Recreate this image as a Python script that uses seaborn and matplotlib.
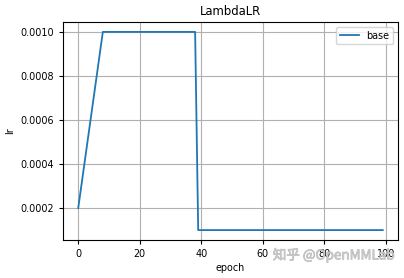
import matplotlib
matplotlib.use("Agg")
import matplotlib.pyplot as plt
import matplotlib.patheffects as pe
import seaborn as sns
import pandas as pd

epochs = [0, 8, 38, 39, 99]
lr_values = [0.0002, 0.0010, 0.0010, 0.0001, 0.0001]
series_name = "base"
yticks = [0.0002, 0.0004, 0.0006, 0.0008, 0.0010]
xticks = [0, 20, 40, 60, 80, 100]

df = pd.DataFrame({"epoch": epochs, "lr": lr_values})

plt.rcParams["font.family"] = ["DejaVu Sans", "Noto Sans CJK SC"]
fs = 6.9
fig = plt.figure(figsize=(4.04, 2.78), dpi=100)
ax = fig.add_axes([63/404, 1-240/278, (398-63)/404, (240-22)/278])
sns.lineplot(data=df, x="epoch", y="lr", ax=ax, label=series_name, color="#1f77b4", linewidth=1.3)
ax.set_xticks(xticks)
ax.set_yticks(yticks)
ax.set_yticklabels([f"{v:.4f}" for v in yticks])
ax.tick_params(labelsize=fs, length=3)
ax.grid(True, color="#b0b0b0", linewidth=0.8)
ax.set_xlabel("epoch", fontsize=fs, labelpad=3)
ax.set_ylabel("lr", fontsize=fs)
ax.set_title("LambdaLR", fontsize=8.4, pad=5)
ax.legend(loc="upper right", fontsize=fs)
fig.text(0.978, 1-255/278, "知乎 @OpenMMLab", ha="right", va="center", fontsize=9.7,
         color="#c8c8c8", alpha=0.95, family=["Noto Sans CJK SC", "DejaVu Sans"],
         path_effects=[pe.withStroke(linewidth=0.5, foreground="#b4b4b4")])
fig.savefig("out.png", dpi=100)
